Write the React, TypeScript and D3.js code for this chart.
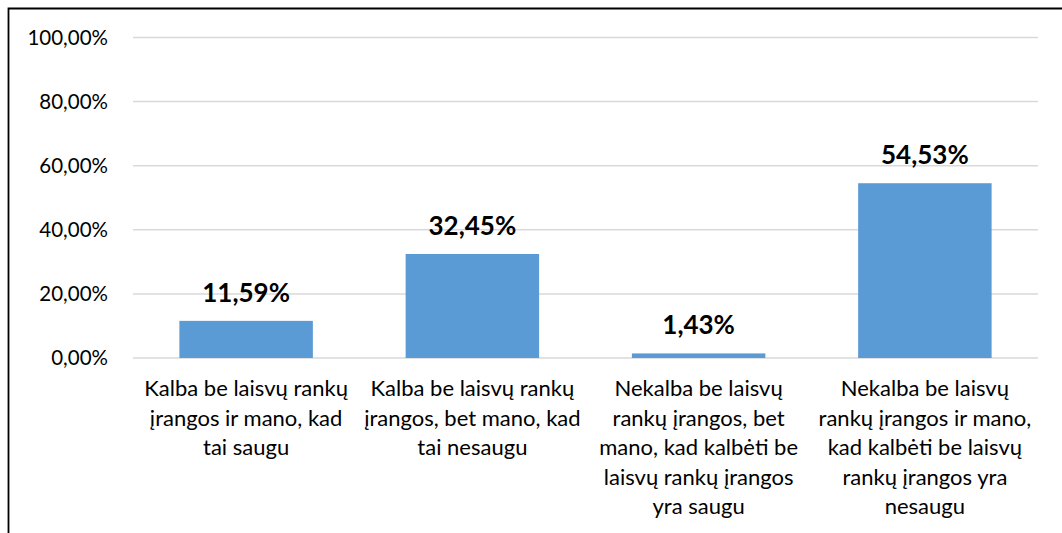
import React, { useRef, useEffect } from 'react';
import * as d3 from 'd3';

const categories: string[][] = [
  ['Kalba be laisvų rankų', 'įrangos ir mano, kad', 'tai saugu'],
  ['Kalba be laisvų rankų', 'įrangos, bet mano, kad', 'tai nesaugu'],
  ['Nekalba be laisvų', 'rankų įrangos, bet', 'mano, kad kalbėti be', 'laisvų rankų įrangos', 'yra saugu'],
  ['Nekalba be laisvų', 'rankų įrangos ir mano,', 'kad kalbėti be laisvų', 'rankų įrangos yra', 'nesaugu'],
];
const values: number[] = [11.59, 32.45, 1.43, 54.53];
const yTicks: number[] = [0, 20, 40, 60, 80, 100];

const fmt = (v: number) => v.toFixed(2).replace('.', ',') + '%';

const BarChart: React.FC = () => {
  const svgRef = useRef<SVGSVGElement | null>(null);

  useEffect(() => {
    if (!svgRef.current) return;
    const svg = d3.select(svgRef.current);
    svg.selectAll('*').remove();

    const width = 1062;
    const height = 533;
    const plot = { left: 133, right: 1038, top: 37.5, bottom: 358 };
    const font = 'Lato, "Open Sans", sans-serif';

    const x = d3.scaleBand<number>()
      .domain(values.map((_, i) => i))
      .range([plot.left, plot.right])
      .paddingInner(0.41)
      .paddingOuter(0.205);

    const y = d3.scaleLinear()
      .domain([0, 100])
      .range([plot.bottom, plot.top]);

    svg.append('rect')
      .attr('width', width)
      .attr('height', height)
      .attr('fill', '#ffffff');

    // chart frame (left + top only visible)
    svg.append('path')
      .attr('d', `M8.5,${height} L8.5,8.5 L${width},8.5`)
      .attr('fill', 'none')
      .attr('stroke', '#000')
      .attr('stroke-width', 1.8);

    // gridlines
    svg.append('g')
      .selectAll('line')
      .data(yTicks)
      .join('line')
      .attr('x1', plot.left)
      .attr('x2', plot.right)
      .attr('y1', d => y(d))
      .attr('y2', d => y(d))
      .attr('stroke', '#d9d9d9')
      .attr('stroke-width', 1.5);

    // y tick labels
    svg.append('g')
      .selectAll('text')
      .data(yTicks)
      .join('text')
      .attr('x', 108)
      .attr('y', d => y(d))
      .attr('dy', '0.35em')
      .attr('text-anchor', 'end')
      .attr('font-family', font)
      .attr('font-size', 20.5)
      .attr('fill', '#000')
      .text(d => fmt(d));

    // bars
    svg.append('g')
      .selectAll('rect')
      .data(values)
      .join('rect')
      .attr('x', (_, i) => x(i)!)
      .attr('width', x.bandwidth())
      .attr('y', d => y(d))
      .attr('height', d => y(0) - y(d))
      .attr('fill', '#5b9bd5');

    // value labels
    svg.append('g')
      .selectAll('text')
      .data(values)
      .join('text')
      .attr('x', (_, i) => x(i)! + x.bandwidth() / 2)
      .attr('y', d => y(d) - 19)
      .attr('text-anchor', 'middle')
      .attr('font-family', font)
      .attr('font-weight', 'bold')
      .attr('font-size', 26)
      .attr('fill', '#000')
      .text(d => fmt(d));

    // category labels
    const cat = svg.append('g')
      .selectAll('text')
      .data(categories)
      .join('text')
      .attr('x', (_, i) => x(i)! + x.bandwidth() / 2)
      .attr('y', 396)
      .attr('text-anchor', 'middle')
      .attr('font-family', font)
      .attr('font-size', 22)
      .attr('fill', '#000');

    cat.selectAll('tspan')
      .data(d => d)
      .join('tspan')
      .attr('x', function () { return (this.parentNode as SVGTextElement).getAttribute('x'); })
      .attr('dy', (_, j) => (j === 0 ? 0 : 29.5))
      .text(d => d);
  }, []);

  return (
    <svg
      ref={svgRef}
      width={1062}
      height={533}
      style={{ position: 'absolute', left: 0, top: 0 }}
    />
  );
};

export default function App() {
  return <BarChart />;
}
